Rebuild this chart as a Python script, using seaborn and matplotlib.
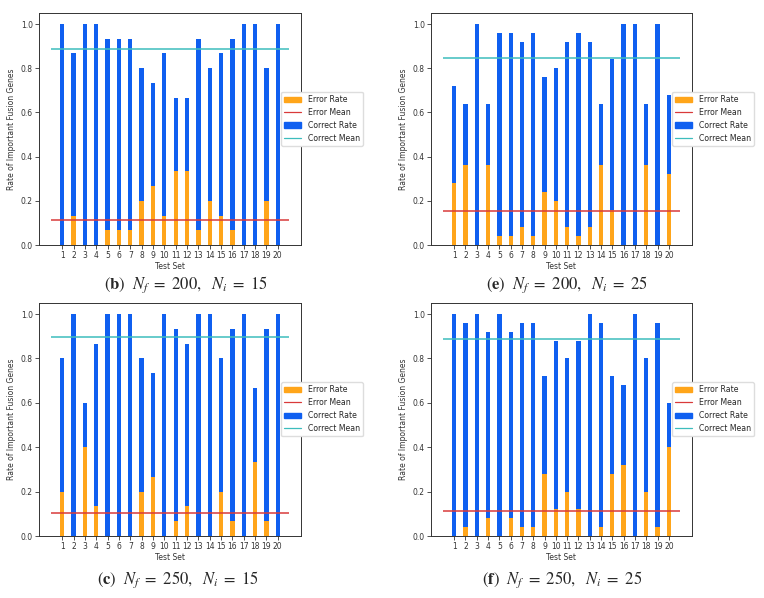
import matplotlib
matplotlib.use("Agg")
import matplotlib.pyplot as plt
import seaborn as sns
import pandas as pd
from matplotlib.patches import Patch
from matplotlib.lines import Line2D

# Test set ids (x axis)
test_sets = list(range(1, 21))

# Panel (b): N_f = 200, N_i = 15
b_error = [0.0, 0.133, 0.0, 0.0, 0.067, 0.067, 0.067, 0.2, 0.267, 0.133,
           0.333, 0.333, 0.067, 0.2, 0.133, 0.067, 0.0, 0.0, 0.2, 0.0]
b_correct = [1.0, 0.867, 1.0, 1.0, 0.933, 0.933, 0.933, 0.8, 0.733, 0.867,
             0.667, 0.667, 0.933, 0.8, 0.867, 0.933, 1.0, 1.0, 0.8, 1.0]

# Panel (e): N_f = 200, N_i = 25
e_error = [0.28, 0.36, 0.0, 0.36, 0.04, 0.04, 0.08, 0.04, 0.24, 0.2,
           0.08, 0.04, 0.08, 0.36, 0.16, 0.0, 0.0, 0.36, 0.0, 0.32]
e_correct = [0.72, 0.64, 1.0, 0.64, 0.96, 0.96, 0.92, 0.96, 0.76, 0.8,
             0.92, 0.96, 0.92, 0.64, 0.84, 1.0, 1.0, 0.64, 1.0, 0.68]

# Panel (c): N_f = 250, N_i = 15
c_error = [0.2, 0.0, 0.4, 0.133, 0.0, 0.0, 0.0, 0.2, 0.267, 0.0,
           0.067, 0.133, 0.0, 0.0, 0.2, 0.067, 0.0, 0.333, 0.067, 0.0]
c_correct = [0.8, 1.0, 0.6, 0.867, 1.0, 1.0, 1.0, 0.8, 0.733, 1.0,
             0.933, 0.867, 1.0, 1.0, 0.8, 0.933, 1.0, 0.667, 0.933, 1.0]

# Panel (f): N_f = 250, N_i = 25
f_error = [0.0, 0.04, 0.0, 0.08, 0.0, 0.08, 0.04, 0.04, 0.28, 0.12,
           0.2, 0.12, 0.0, 0.04, 0.28, 0.32, 0.0, 0.2, 0.04, 0.4]
f_correct = [1.0, 0.96, 1.0, 0.92, 1.0, 0.92, 0.96, 0.96, 0.72, 0.88,
             0.8, 0.88, 1.0, 0.96, 0.72, 0.68, 1.0, 0.8, 0.96, 0.6]

captions = {
    "b": r"$(\mathbf{b})\ \ N_f\ =\ 200,\ \ N_i\ =\ 15$",
    "e": r"$(\mathbf{e})\ \ N_f\ =\ 200,\ \ N_i\ =\ 25$",
    "c": r"$(\mathbf{c})\ \ N_f\ =\ 250,\ \ N_i\ =\ 15$",
    "f": r"$(\mathbf{f})\ \ N_f\ =\ 250,\ \ N_i\ =\ 25$",
}

ERR_COLOR = "#FFA51A"
COR_COLOR = "#0F5FF0"
ERR_MEAN_COLOR = "#D93A3A"
COR_MEAN_COLOR = "#3DBDBD"

sns.set_style("ticks")
plt.rcParams["font.family"] = ["DejaVu Sans"]
plt.rcParams["mathtext.fontset"] = "stix"

fig = plt.figure(figsize=(7.64, 5.98), dpi=100)

W, H = 764, 598
# axes boxes in pixels: left, top, right, bottom
boxes = {
    "b": (39, 13, 301, 245),
    "e": (431, 13, 692, 245),
    "c": (39, 303, 301, 536),
    "f": (431, 303, 692, 536),
}
panels = {
    "b": (b_error, b_correct),
    "e": (e_error, e_correct),
    "c": (c_error, c_correct),
    "f": (f_error, f_correct),
}
caption_pos = {"b": (186, 285), "e": (567, 285), "c": (178, 580), "f": (562, 580)}

for key, (err, cor) in panels.items():
    l, t, r, b = boxes[key]
    ax = fig.add_axes([l / W, 1 - b / H, (r - l) / W, (b - t) / H])
    df = pd.DataFrame({"test": test_sets, "error": err, "correct": cor})

    sns.barplot(data=df, x="test", y="correct", native_scale=True, width=0.38,
                color=COR_COLOR, saturation=1, errorbar=None, linewidth=0, ax=ax)
    sns.barplot(data=df, x="test", y="error", native_scale=True, width=0.38,
                color=ERR_COLOR, saturation=1, errorbar=None, linewidth=0, ax=ax)

    err_mean = df["error"].mean()
    cor_mean = df["correct"].mean()
    ax.hlines(err_mean, 0, 21, color=ERR_MEAN_COLOR, linewidth=1.1)
    ax.hlines(cor_mean, 0, 21, color=COR_MEAN_COLOR, linewidth=1.1)

    ax.set_xlim(-1.05, 22.05)
    ax.set_ylim(0, 1.05)
    ax.set_xticks(test_sets)
    ax.set_xticklabels([str(v) for v in test_sets])
    ax.set_yticks([0.0, 0.2, 0.4, 0.6, 0.8, 1.0])
    ax.set_yticklabels(["0.0", "0.2", "0.4", "0.6", "0.8", "1.0"])
    ax.tick_params(labelsize=5.5, length=3, width=0.6, pad=1.5, colors="#333333")
    for s in ax.spines.values():
        s.set_linewidth(0.7)
        s.set_color("#333333")
        s.set_visible(True)
    ax.set_xlabel("Test Set", fontsize=5.5, labelpad=1.5, color="#333333")
    ax.set_ylabel("Rate of Important Fusion Genes", fontsize=5.5, labelpad=3,
                  color="#333333")

    handles = [
        Patch(color=ERR_COLOR, label="Error Rate"),
        Line2D([], [], color=ERR_MEAN_COLOR, linewidth=0.9, label="Error Mean"),
        Patch(color=COR_COLOR, label="Correct Rate"),
        Line2D([], [], color=COR_MEAN_COLOR, linewidth=0.9, label="Correct Mean"),
    ]
    ax.legend(handles=handles, loc="upper left", bbox_to_anchor=(0.924, 0.66),
              borderaxespad=0, fontsize=5.6, frameon=True, fancybox=True,
              framealpha=1, edgecolor="#dddddd", handlelength=2.2,
              labelspacing=0.5)

    cx, cy = caption_pos[key]
    fig.text(cx / W, 1 - cy / H, captions[key], ha="center", va="center",
             fontsize=12)

fig.savefig("out.png", dpi=100)
